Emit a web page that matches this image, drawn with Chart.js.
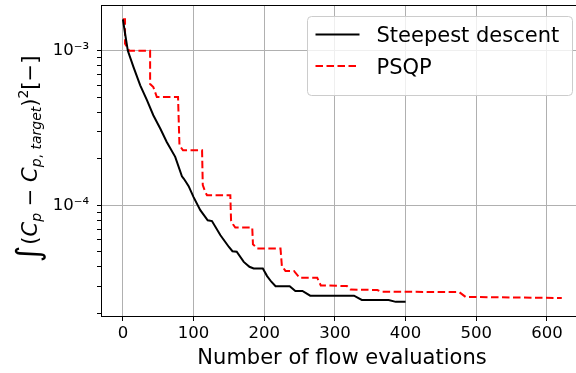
<!DOCTYPE html>
<html>
<head>
<meta charset="utf-8">
<script src="https://cdn.jsdelivr.net/npm/chart.js@4.4.0/dist/chart.umd.min.js"></script>
<style>
  html, body { margin: 0; padding: 0; background: #fff; overflow: hidden; }
  #wrap { width: 576px; height: 373px; overflow: hidden; }
</style>
</head>
<body>
<div id="wrap"><canvas id="chart" width="584" height="373"></canvas></div>
<script>
// Steepest descent history (evaluations, cost)
const sdEvals = [0, 3, 7, 15, 24.5, 34, 43, 53, 62, 74, 83.5, 86, 89, 93, 100, 109.5, 120, 126, 138, 150, 155, 161, 171, 179, 185, 198, 204, 210, 216, 236, 244, 254, 265, 327, 338, 376, 386, 400];
const sdCost = [1.6e-3, 1.3e-3, 1.0e-3, 7.85e-4, 5.98e-4, 4.79e-4, 3.83e-4, 3.13e-4, 2.57e-4, 2.06e-4, 1.54e-4, 1.49e-4, 1.42e-4, 1.33e-4, 1.13e-4, 9.3e-5, 8.0e-5, 7.9e-5, 6.4e-5, 5.37e-5, 5.04e-5, 5.0e-5, 4.3e-5, 4.0e-5, 3.9e-5, 3.9e-5, 3.48e-5, 3.2e-5, 2.99e-5, 2.99e-5, 2.79e-5, 2.79e-5, 2.6e-5, 2.6e-5, 2.44e-5, 2.44e-5, 2.37e-5, 2.37e-5];

// PSQP history
const psqpEvals = [0, 3, 3, 9, 38.5, 38.5, 43, 48, 78, 80, 85, 112, 113, 116.5, 119, 152, 153, 156, 159, 183, 184, 187.5, 190, 223, 225, 227.5, 230, 242, 250, 275, 280, 317, 322, 360, 365, 476, 485, 621];
const psqpCost = [1.6e-3, 1.6e-3, 1.11e-3, 1.0e-3, 1.0e-3, 6.1e-4, 5.83e-4, 5.02e-4, 5.02e-4, 2.45e-4, 2.27e-4, 2.27e-4, 1.35e-4, 1.22e-4, 1.16e-4, 1.16e-4, 8.0e-5, 7.5e-5, 7.18e-5, 7.18e-5, 5.6e-5, 5.4e-5, 5.25e-5, 5.25e-5, 4.0e-5, 3.9e-5, 3.76e-5, 3.76e-5, 3.39e-5, 3.39e-5, 3.03e-5, 3.0e-5, 2.85e-5, 2.83e-5, 2.76e-5, 2.74e-5, 2.55e-5, 2.51e-5];

const xTicks = [0, 100, 200, 300, 400, 500, 600];
const yMajorTicks = [1e-4, 1e-3];
const yMajorLabels = ['10\u207b\u2074', '10\u207b\u00b3'];
const yMinorTicks = [2e-5, 3e-5, 4e-5, 5e-5, 6e-5, 7e-5, 8e-5, 9e-5, 2e-4, 3e-4, 4e-4, 5e-4, 6e-4, 7e-4, 8e-4, 9e-4];

const FONT = '"DejaVu Sans", sans-serif';

const toPoints = (xs, ys) => xs.map((x, i) => ({ x: x, y: ys[i] }));

// white background + top frame line
const frame = {
  id: 'frame',
  beforeDraw(chart) {
    const ctx = chart.ctx;
    ctx.save();
    ctx.fillStyle = '#fff';
    ctx.fillRect(0, 0, chart.width, chart.height);
    ctx.restore();
  },
  afterDraw(chart) {
    const { ctx, chartArea } = chart;
    ctx.save();
    ctx.strokeStyle = '#000';
    ctx.lineWidth = 1;
    ctx.beginPath();
    ctx.moveTo(chartArea.left, Math.round(chartArea.top) + 0.5);
    ctx.lineTo(chart.width, Math.round(chartArea.top) + 0.5);
    ctx.stroke();
    ctx.restore();
  }
};

// legend box in the upper right corner
const legendBox = {
  id: 'legendBox',
  afterDraw(chart) {
    const { ctx, chartArea } = chart;
    const w = 265, h = 79;
    const x = Math.round(chartArea.right - 10.7 - w) + 0.5;
    const y = Math.round(chartArea.top + 10.5) + 0.5;
    ctx.save();
    ctx.beginPath();
    ctx.roundRect(x, y, w, h, 4);
    ctx.fillStyle = 'rgba(255,255,255,0.8)';
    ctx.fill();
    ctx.strokeStyle = '#cccccc';
    ctx.lineWidth = 1;
    ctx.stroke();
    chart.data.datasets.forEach((ds, i) => {
      const cy = y + 18 + i * 31.6;
      ctx.beginPath();
      ctx.setLineDash(ds.borderDash || []);
      ctx.strokeStyle = ds.borderColor;
      ctx.lineWidth = ds.borderWidth;
      ctx.moveTo(x + 8, cy);
      ctx.lineTo(x + 52, cy);
      ctx.stroke();
      ctx.setLineDash([]);
      ctx.fillStyle = '#000';
      ctx.font = '21px ' + FONT;
      ctx.textBaseline = 'alphabetic';
      ctx.fillText(ds.label, x + 69, cy + 7.6);
    });
    ctx.restore();
  }
};

// rotated y axis title with sub/superscripts
const yTitle = {
  id: 'yTitle',
  afterDraw(chart) {
    const ctx = chart.ctx;
    const main = 21, small = 14;
    const segs = [
      { t: '\u222b', f: 'italic 32px ' + FONT, dy: 2, gap: 1 },
      { t: '(', f: main + 'px ' + FONT, dy: 0 },
      { t: 'C', f: 'italic ' + main + 'px ' + FONT, dy: 0 },
      { t: 'p', f: 'italic ' + small + 'px ' + FONT, dy: 4 },
      { t: ' \u2212 ', f: main + 'px ' + FONT, dy: 0 },
      { t: 'C', f: 'italic ' + main + 'px ' + FONT, dy: 0 },
      { t: 'p', f: 'italic ' + small + 'px ' + FONT, dy: 4 },
      { t: ', ', f: small + 'px ' + FONT, dy: 4 },
      { t: 'target', f: 'italic ' + small + 'px ' + FONT, dy: 4 },
      { t: ')', f: main + 'px ' + FONT, dy: 0 },
      { t: '2', f: small + 'px ' + FONT, dy: -9 },
      { t: '[\u2212]', f: main + 'px ' + FONT, dy: 0 }
    ];
    ctx.save();
    let total = 0;
    segs.forEach(s => {
      ctx.font = s.f;
      s.w = ctx.measureText(s.t).width + (s.gap || 0);
      total += s.w;
    });
    ctx.translate(37, 159 + total / 2);
    ctx.rotate(-Math.PI / 2);
    ctx.fillStyle = '#000';
    ctx.textBaseline = 'alphabetic';
    let px = 0;
    segs.forEach(s => {
      ctx.font = s.f;
      ctx.fillText(s.t, px, s.dy);
      px += s.w;
    });
    ctx.restore();
  }
};

new Chart(document.getElementById('chart'), {
  type: 'line',
  data: {
    datasets: [
      {
        label: 'Steepest descent',
        data: toPoints(sdEvals, sdCost),
        borderColor: '#000000',
        borderWidth: 2,
        pointRadius: 0,
        tension: 0
      },
      {
        label: 'PSQP',
        data: toPoints(psqpEvals, psqpCost),
        borderColor: '#ff0000',
        borderWidth: 2,
        borderDash: [7.5, 3.5],
        pointRadius: 0,
        tension: 0
      }
    ]
  },
  options: {
    responsive: false,
    animation: false,
    devicePixelRatio: 1,
    layout: { padding: { top: 5, right: 1, bottom: 0, left: 0 } },
    plugins: {
      legend: { display: false },
      tooltip: { enabled: false }
    },
    scales: {
      x: {
        type: 'linear',
        min: -31,
        max: 651,
        afterBuildTicks: scale => { scale.ticks = xTicks.map(v => ({ value: v })); },
        afterFit: scale => {
          scale.height = 57;
          scale.paddingLeft = 0;
          scale.paddingRight = 0;
        },
        grid: { color: '#b0b0b0', lineWidth: 1, tickLength: 5, tickColor: '#000' },
        border: { color: '#000', width: 1 },
        ticks: { color: '#000', font: { family: FONT, size: 16.5 }, padding: 3, maxRotation: 0, autoSkip: false },
        title: {
          display: true,
          text: 'Number of flow evaluations',
          color: '#000',
          font: { family: FONT, size: 21 },
          padding: { top: 0, bottom: 2 }
        }
      },
      y: {
        type: 'logarithmic',
        min: 1.92e-5,
        max: 1.98e-3,
        bounds: 'data',
        afterBuildTicks: scale => {
          const ticks = yMinorTicks.map(v => ({ value: v, major: false }))
            .concat(yMajorTicks.map(v => ({ value: v, major: true })));
          ticks.sort((a, b) => a.value - b.value);
          scale.ticks = ticks;
        },
        afterFit: scale => {
          scale.width = 101;
          scale.paddingTop = 0;
          scale.paddingBottom = 0;
        },
        grid: {
          color: c => (c.tick && c.tick.major) ? '#b0b0b0' : 'rgba(0,0,0,0)',
          tickColor: '#000',
          tickLength: 4,
          lineWidth: 1
        },
        border: { color: '#000', width: 1 },
        ticks: {
          color: '#000',
          font: { family: FONT, size: 16.5 },
          padding: 8,
          autoSkip: false,
          callback: v => {
            const i = yMajorTicks.findIndex(m => Math.abs(m - v) / m < 1e-6);
            return i >= 0 ? yMajorLabels[i] : '';
          }
        }
      }
    }
  },
  plugins: [frame, legendBox, yTitle]
});
</script>
</body>
</html>
